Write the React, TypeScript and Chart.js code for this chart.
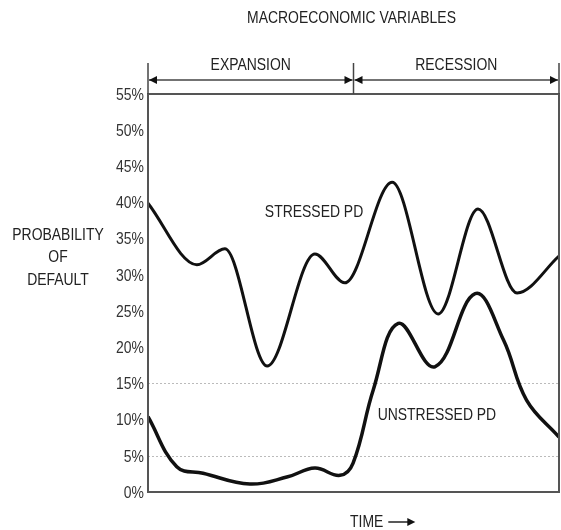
import React, { useEffect, useRef } from "react";
import { Chart, registerables } from "chart.js";

Chart.register(...registerables);

// Time axis (0 = start, 100 = end of period)
const stressedTime = [0, 11.9, 18.7, 29, 40.6, 47.9, 59.4, 70.6, 80.3, 89.8, 100];
const stressedPD = [39.9, 31.4, 33.6, 17.4, 32.9, 28.9, 42.8, 24.6, 39.1, 27.5, 32.6];

const unstressedTime = [0, 7, 13.4, 24.8, 34, 40.6, 46.7, 49.9, 54.8, 60.9, 69.8, 79.6, 86.5, 92.1, 100];
const unstressedPD = [10.4, 3.5, 2.6, 1.1, 2.1, 3.3, 2.3, 4, 14.1, 23.3, 17.3, 27.4, 21, 12.7, 7.6];

const yTicks = [0, 5, 10, 15, 20, 25, 30, 35, 40, 45, 50, 55];
const gridValues = [5, 15];

const phaseBounds = [0, 50, 100];
const phaseLabels = ["EXPANSION", "RECESSION"];

const seriesLabels = [
  { text: "STRESSED PD", t: 40.4, v: 38.7 },
  { text: "UNSTRESSED PD", t: 70.3, v: 10.6 },
];

const title = "MACROECONOMIC VARIABLES";
const yTitle = ["PROBABILITY", "OF", "DEFAULT"];
const xTitle = "TIME";

const FONT = "'Liberation Sans', Arial, sans-serif";
const NARROW = 0.82;

function narrowText(ctx: CanvasRenderingContext2D, text: string, x: number, y: number, align: CanvasTextAlign) {
  ctx.save();
  ctx.translate(x, y);
  ctx.scale(NARROW, 1);
  ctx.textAlign = align;
  ctx.textBaseline = "middle";
  ctx.fillText(text, 0, 0);
  ctx.restore();
}

function arrowHead(ctx: CanvasRenderingContext2D, x: number, y: number, dir: number) {
  ctx.beginPath();
  ctx.moveTo(x, y);
  ctx.lineTo(x - dir * 8, y - 4);
  ctx.lineTo(x - dir * 8, y + 4);
  ctx.closePath();
  ctx.fill();
}

const decorPlugin = {
  id: "decor",
  beforeDatasetsDraw(chart: any) {
    const { ctx, chartArea, scales } = chart;
    ctx.save();
    ctx.strokeStyle = "#bbb";
    ctx.lineWidth = 1;
    ctx.setLineDash([2, 2]);
    for (const v of gridValues) {
      const y = Math.round(scales.y.getPixelForValue(v)) + 0.5;
      ctx.beginPath();
      ctx.moveTo(chartArea.left, y);
      ctx.lineTo(chartArea.right, y);
      ctx.stroke();
    }
    ctx.restore();
  },
  afterDraw(chart: any) {
    const { ctx, chartArea, scales } = chart;
    const { left, right, top, bottom } = chartArea;
    ctx.save();
    // frame
    ctx.strokeStyle = "#555";
    ctx.lineWidth = 2;
    ctx.strokeRect(left, top, right - left, bottom - top);

    ctx.font = `17px ${FONT}`;

    // y tick labels
    ctx.fillStyle = "#333";
    for (const v of yTicks) {
      narrowText(ctx, `${v}%`, left - 4, scales.y.getPixelForValue(v) + 1, "right");
    }

    // phase markers
    const arrowY = top - 14;
    ctx.strokeStyle = "#444";
    ctx.fillStyle = "#111";
    ctx.lineWidth = 1.5;
    const xs = phaseBounds.map((b) => scales.x.getPixelForValue(b));
    for (const x of xs) {
      ctx.beginPath();
      ctx.moveTo(x, top - 31);
      ctx.lineTo(x, top);
      ctx.stroke();
    }
    for (let i = 0; i < phaseLabels.length; i++) {
      const a = xs[i];
      const b = xs[i + 1];
      ctx.beginPath();
      ctx.moveTo(a + 1, arrowY);
      ctx.lineTo(b - 1, arrowY);
      ctx.stroke();
      ctx.fillStyle = "#111";
      arrowHead(ctx, a + 1, arrowY, -1);
      arrowHead(ctx, b - 1, arrowY, 1);
      ctx.fillStyle = "#222";
      narrowText(ctx, phaseLabels[i], (a + b) / 2, top - 29, "center");
    }

    ctx.fillStyle = "#222";
    narrowText(ctx, title, (left + right) / 2 - 2, 18, "center");

    // y title
    yTitle.forEach((s, i) => narrowText(ctx, s, 58, 235 + i * 22.5, "center"));

    // series labels
    for (const s of seriesLabels) {
      narrowText(ctx, s.text, scales.x.getPixelForValue(s.t), scales.y.getPixelForValue(s.v), "center");
    }

    // TIME arrow
    const tx = 350;
    const ty = 522;
    narrowText(ctx, xTitle, tx, ty, "left");
    const w = ctx.measureText(xTitle).width * NARROW;
    ctx.strokeStyle = "#222";
    ctx.lineWidth = 1.5;
    ctx.beginPath();
    ctx.moveTo(tx + w + 5, ty);
    ctx.lineTo(tx + w + 28, ty);
    ctx.stroke();
    ctx.fillStyle = "#111";
    arrowHead(ctx, tx + w + 32, ty, 1);
    ctx.restore();
  },
};

export default function App() {
  const ref = useRef<HTMLCanvasElement>(null);
  useEffect(() => {
    if (!ref.current) return;
    const chart = new Chart(ref.current, {
      type: "line",
      data: {
        datasets: [
          {
            label: "Stressed PD",
            data: stressedTime.map((t, i) => ({ x: t, y: stressedPD[i] })),
            borderColor: "#111",
            borderWidth: 3,
            pointRadius: 0,
            cubicInterpolationMode: "monotone",
            fill: false,
          },
          {
            label: "Unstressed PD",
            data: unstressedTime.map((t, i) => ({ x: t, y: unstressedPD[i] })),
            borderColor: "#111",
            borderWidth: 3.5,
            pointRadius: 0,
            tension: 0.4,
            fill: false,
          },
        ],
      },
      options: {
        animation: false,
        responsive: false,
        maintainAspectRatio: false,
        layout: { padding: { left: 148, top: 94, right: 2, bottom: 38 } },
        plugins: { legend: { display: false }, tooltip: { enabled: false } },
        scales: {
          x: { type: "linear", min: 0, max: 100, display: false },
          y: { type: "linear", min: 0, max: 55, display: false },
        },
      },
      plugins: [decorPlugin],
    });
    return () => chart.destroy();
  }, []);
  return (
    <div style={{ position: "fixed", left: 0, top: 0, width: 561, height: 530, background: "#fff" }}>
      <canvas ref={ref} width={561} height={530} />
    </div>
  );
}
